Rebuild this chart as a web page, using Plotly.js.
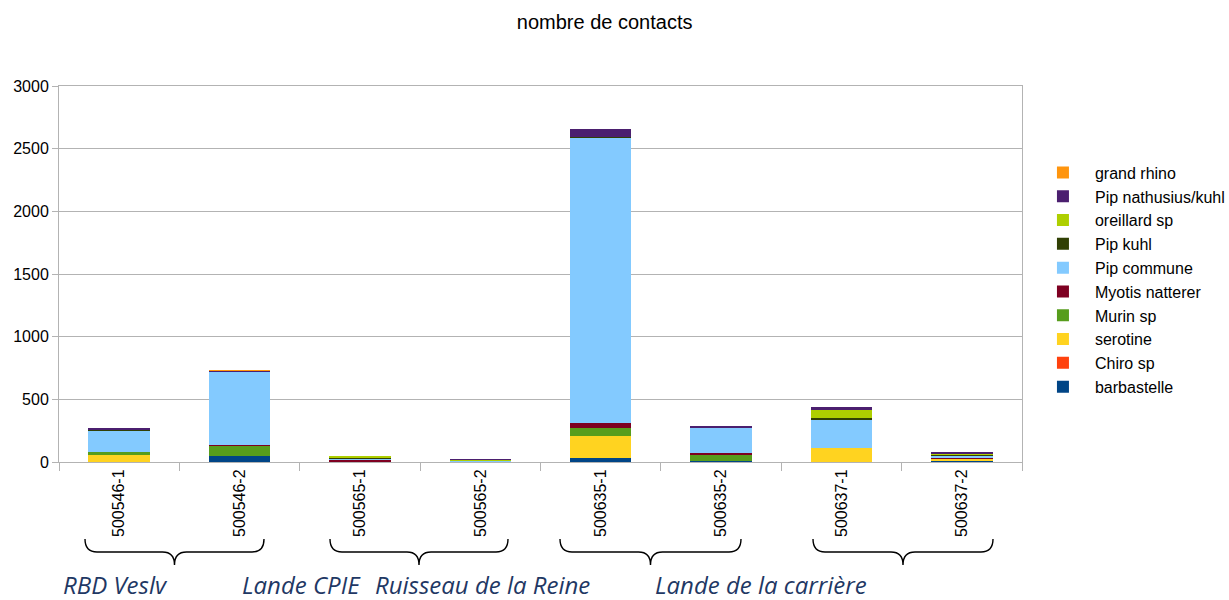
<!DOCTYPE html>
<html>
<head>
<meta charset="utf-8">
<script src="https://cdn.plot.ly/plotly-3.0.1.min.js"></script>
<style>html,body{margin:0;padding:0;background:#fff;}#chart{width:1229px;height:600px;}</style>
</head>
<body>
<div id="chart"></div>
<script>
// Categories (stations)
const stations = ["500546-1","500546-2","500565-1","500565-2","500635-1","500635-2","500637-1","500637-2"];

// Series values (number of contacts), bottom to top of the stack
const barbastelle     = [0, 45, 0, 0, 30, 5, 0, 8];
const chiroSp         = [0, 5, 0, 0, 0, 0, 0, 0];
const serotine        = [55, 0, 0, 0, 175, 0, 108, 12];
const murinSp         = [25, 75, 3, 2, 70, 52, 6, 3];
const myotisNatterer  = [0, 8, 15, 0, 40, 15, 0, 8];
const pipCommune      = [170, 585, 3, 8, 2270, 200, 225, 20];
const pipKuhl         = [5, 0, 8, 0, 10, 0, 15, 2];
const oreillardSp     = [0, 0, 15, 5, 0, 0, 57, 12];
const pipNathusius    = [15, 8, 0, 5, 65, 12, 24, 12];
const grandRhino      = [0, 5, 0, 0, 0, 0, 0, 0];

const seriesNames  = ["barbastelle","Chiro sp","serotine","Murin sp","Myotis natterer","Pip commune","Pip kuhl","oreillard sp","Pip nathusius/kuhl","grand rhino"];
const seriesValues = [barbastelle, chiroSp, serotine, murinSp, myotisNatterer, pipCommune, pipKuhl, oreillardSp, pipNathusius, grandRhino];
const seriesColors = ["#004586","#ff420e","#ffd320","#579d1c","#7e0021","#83caff","#314004","#aecf00","#4b1f6f","#ff950e"];

// Site groups (annotation below the axis)
const groupLabels = ["RBD Veslv","Lande CPIE","Ruisseau de la Reine","Lande de la carrière"];

const traces = seriesNames.map((name, i) => ({
  type: "bar",
  name: name,
  x: stations,
  y: seriesValues[i],
  marker: {color: seriesColors[i], line: {width: 0}},
  hoverinfo: "x+y+name"
}));

// Plot area geometry in pixels
const L = 59, R = 1022, T = 86, B = 462;
const W = R - L, H = B - T;
const px = x => (x - L) / W;
const py = y => (B - y) / H;

function brace(x0, x1, yTop, yMid, yTip) {
  const c = (x0 + x1) / 2, r = 12;
  const pts = [
    "M", px(x0), py(yTop),
    "Q", px(x0), py(yMid), px(x0 + r), py(yMid),
    "L", px(c - r), py(yMid),
    "Q", px(c), py(yMid), px(c), py(yTip),
    "Q", px(c), py(yMid), px(c + r), py(yMid),
    "L", px(x1 - r), py(yMid),
    "Q", px(x1), py(yMid), px(x1), py(yTop)
  ];
  let d = "";
  for (let i = 0; i < pts.length; i++) {
    const p = pts[i];
    d += (typeof p === "string") ? (i ? " " : "") + p + " " : p.toFixed(5) + (typeof pts[i+1] === "number" ? "," : "");
  }
  return {type: "path", xref: "paper", yref: "paper", path: d, line: {color: "#000", width: 1.4}};
}

const shapes = [
  brace(85, 264, 539, 552, 565),
  brace(330, 508, 539, 552, 565),
  brace(560, 741, 539, 552, 565),
  brace(813, 993, 539, 552, 565)
];

const labelX = [62, 241, 374, 654];
const annotations = groupLabels.map((t, i) => ({
  text: t, xref: "paper", yref: "paper", x: px(labelX[i]), y: py(602),
  xanchor: "left", yanchor: "bottom", showarrow: false, borderpad: 0,
  font: {family: "Open Sans, Liberation Sans, sans-serif", size: 24, color: "#1f3864", style: "italic"}
}));

const layout = {
  width: 1229, height: 600,
  margin: {l: L, r: 1229 - R, t: T, b: 600 - B, autoexpand: false},
  paper_bgcolor: "#fff", plot_bgcolor: "#fff",
  font: {family: "Liberation Sans, Arial, sans-serif", size: 16, color: "#000"},
  title: {text: "nombre de contacts", x: 0.492, xref: "container", y: 1 - 22/600, yref: "container",
          xanchor: "center", yanchor: "middle", font: {size: 20, color: "#000"}},
  barmode: "stack",
  bargap: 0.49,
  xaxis: {type: "category", tickangle: -90, ticks: "outside", tickson: "boundaries", ticklen: 8,
          tickcolor: "#b3b3b3", showline: true, linecolor: "#b3b3b3", mirror: true,
          showgrid: false, tickfont: {size: 16}, fixedrange: true, automargin: false},
  yaxis: {range: [0, 3000], dtick: 500, ticks: "outside", ticklen: 6, tickcolor: "#b3b3b3",
          showline: true, linecolor: "#b3b3b3", mirror: true, gridcolor: "#b3b3b3", gridwidth: 1,
          zeroline: false, tickfont: {size: 16}, fixedrange: true, automargin: false},
  legend: {x: 1.0093, xanchor: "left", y: 0.815, yanchor: "top", traceorder: "reversed",
           font: {size: 16}, itemwidth: 54, tracegroupgap: 0},
  shapes: shapes,
  annotations: annotations
};

Plotly.newPlot("chart", traces, layout, {displayModeBar: false, staticPlot: true});
</script>
</body>
</html>
